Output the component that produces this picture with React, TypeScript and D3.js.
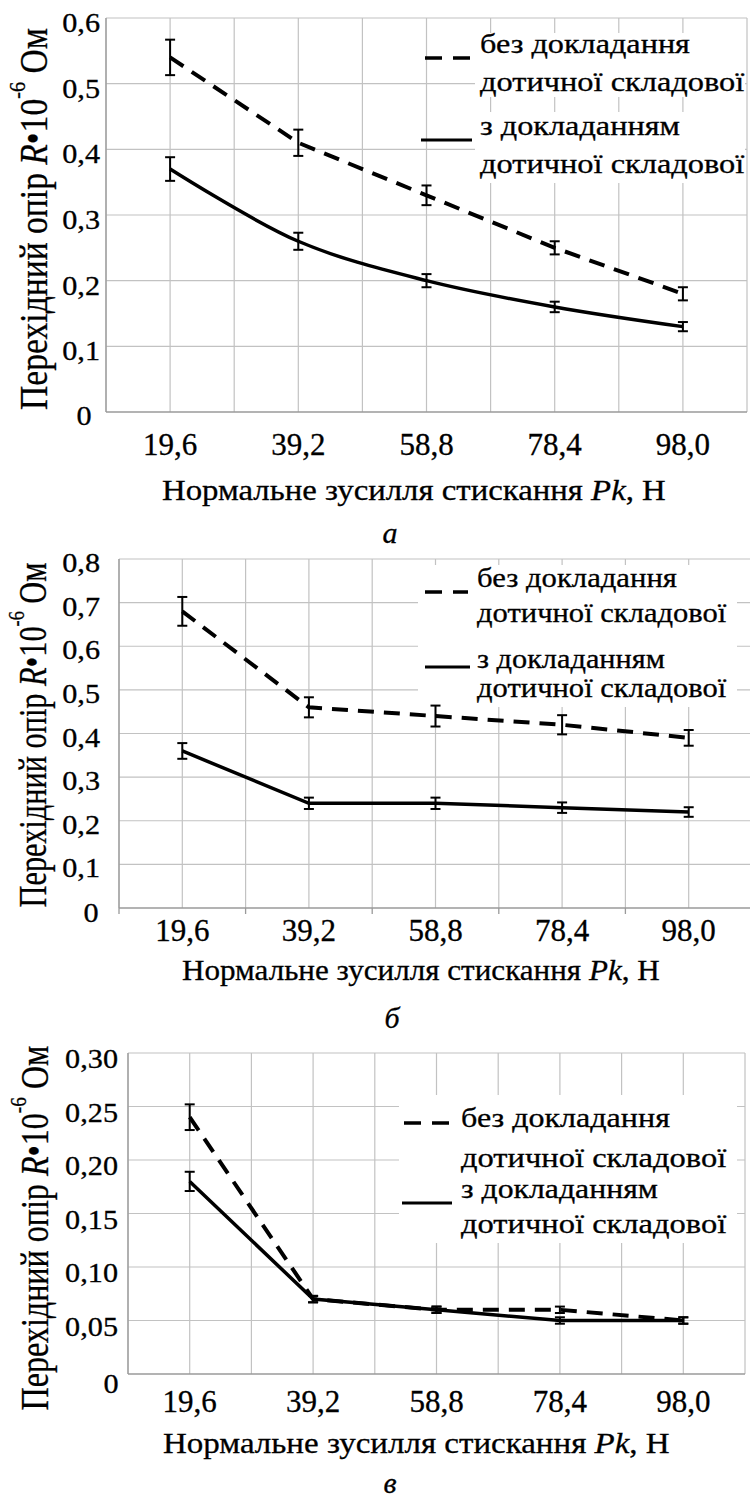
import React, { useLayoutEffect, useRef, useState } from "react";
import * as d3 from "d3";

const SERIF = "Liberation Serif";

// ---------- data ----------
const xValues = [19.6, 39.2, 58.8, 78.4, 98.0];
const xTickLabels = ["19,6", "39,2", "58,8", "78,4", "98,0"];
const xDomain: [number, number] = [9.8, 107.8];
const xGridStep = 9.8;

// panel а
const aWithout = [0.54, 0.41, 0.33, 0.25, 0.18];
const aWithoutErr = [0.027, 0.02, 0.015, 0.01, 0.01];
const aWith = [0.37, 0.26, 0.2, 0.16, 0.13];
const aWithErr = [0.018, 0.013, 0.01, 0.008, 0.007];
const aYTicks = [0, 0.1, 0.2, 0.3, 0.4, 0.5, 0.6];
const aYTickLabels = ["0", "0,1", "0,2", "0,3", "0,4", "0,5", "0,6"];

// panel б
const bWithout = [0.68, 0.46, 0.44, 0.42, 0.39];
const bWithoutErr = [0.033, 0.023, 0.024, 0.022, 0.018];
const bWith = [0.36, 0.24, 0.24, 0.23, 0.22];
const bWithErr = [0.018, 0.013, 0.013, 0.012, 0.011];
const bYTicks = [0, 0.1, 0.2, 0.3, 0.4, 0.5, 0.6, 0.7, 0.8];
const bYTickLabels = ["0", "0,1", "0,2", "0,3", "0,4", "0,5", "0,6", "0,7", "0,8"];

// panel в
const vWithout = [0.24, 0.07, 0.06, 0.06, 0.05];
const vWithoutErr = [0.012, 0.003, 0.003, 0.003, 0.003];
const vWith = [0.18, 0.07, 0.06, 0.05, 0.05];
const vWithErr = [0.009, 0.003, 0.003, 0.003, 0.003];
const vYTicks = [0, 0.05, 0.1, 0.15, 0.2, 0.25, 0.3];
const vYTickLabels = ["0", "0,05", "0,10", "0,15", "0,20", "0,25", "0,30"];

const legendLines = ["без докладання", "дотичної складової", "з докладанням", "дотичної складової"];
const xTitleMain = "Нормальне зусилля стискання ";
const xTitleVar = "Pk";
const xTitleUnit = ", Н";
const panelLetters = ["а", "б", "в"];

// ---------- layout ----------
const panels = [
  {
    letter: panelLetters[0],
    left: 106, right: 747, top: 18, bottom: 412,
    yTicks: aYTicks, yLabels: aYTickLabels,
    without: aWithout, withoutErr: aWithoutErr, withS: aWith, withErr: aWithErr,
    smooth: true, tickMarks: false,
    xTickBaseline: 455,
    xTitle: { x: 162, y: 500, w: 504 },
    letterPos: { x: 390, y: 543 },
    yTitle: { x: 47, cy: 219, len: 382 },
    yLabelRight: 100, yLabelDy: 14, zero: { x: 84, y: 425 },
    legend: {
      textX: 480, baselines: [53, 91, 135, 173], widths: [210, 265, 200, 265],
      dash: { x1: 425, x2: 470, y: 58 }, solid: { x1: 421, x2: 472, y: 140 },
      boxes: [[475, 33, 270, 64], [475, 112, 270, 71]],
    },
  },
  {
    letter: panelLetters[1],
    left: 119, right: 752, top: 559, bottom: 908,
    yTicks: bYTicks, yLabels: bYTickLabels,
    without: bWithout, withoutErr: bWithoutErr, withS: bWith, withErr: bWithErr,
    smooth: false, tickMarks: true,
    xTickBaseline: 941,
    xTitle: { x: 182, y: 980, w: 478 },
    letterPos: { x: 392, y: 1028 },
    yTitle: { x: 46, cy: 735, len: 345 },
    yLabelRight: 100, yLabelDy: 13, zero: { x: 91, y: 922 },
    legend: {
      textX: 477, baselines: [587, 622, 668, 697], widths: [200, 250, 188, 250],
      dash: { x1: 425, x2: 468, y: 592 }, solid: { x1: 425, x2: 470, y: 667 },
      boxes: [[418, 565, 319, 142]],
    },
  },
  {
    letter: panelLetters[2],
    left: 128, right: 745, top: 1053, bottom: 1374,
    yTicks: vYTicks, yLabels: vYTickLabels,
    without: vWithout, withoutErr: vWithoutErr, withS: vWith, withErr: vWithErr,
    smooth: false, tickMarks: false,
    xTickBaseline: 1412,
    xTitle: { x: 163, y: 1453, w: 507 },
    letterPos: { x: 390, y: 1493 },
    yTitle: { x: 48, cy: 1228, len: 365 },
    yLabelRight: 118, yLabelDy: 15, zero: { x: 111, y: 1393 },
    legend: {
      textX: 461, baselines: [1127, 1167, 1198, 1233], widths: [209, 266, 197, 266],
      dash: { x1: 404, x2: 452, y: 1123 }, solid: { x1: 402, x2: 452, y: 1203 },
      boxes: [[399, 1095, 338, 148]],
    },
  },
];

const GRID = "#c2c2c2";
const AXIS = "#9a9a9a";

function FitText(props: {
  x: number; y: number; width: number; anchor?: string; rotate?: number;
  fontSize: number; children: React.ReactNode;
}) {
  const { x, y, width, anchor = "start", rotate = 0, fontSize, children } = props;
  const ref = useRef<SVGTextElement>(null);
  const [s, setS] = useState(1);
  useLayoutEffect(() => {
    if (ref.current) {
      const w = ref.current.getBBox().width;
      if (w > 0) setS(width / w);
    }
  }, [width]);
  return (
    <g transform={`translate(${x},${y}) rotate(${rotate}) scale(${s},1)`}>
      <text ref={ref} x={0} y={0} textAnchor={anchor as any} fontSize={fontSize}
        fontFamily={SERIF} fill="#000" stroke="#000" strokeWidth={0.3}>
        {children}
      </text>
    </g>
  );
}

function Panel({ p }: { p: (typeof panels)[number] }) {
  const x = d3.scaleLinear().domain(xDomain).range([p.left, p.right]);
  const yMax = p.yTicks[p.yTicks.length - 1];
  const y = d3.scaleLinear().domain([0, yMax]).range([p.bottom, p.top]);
  const gridX = d3.range(xDomain[0], xDomain[1] + 1e-6, xGridStep);
  const tickMarkX = d3.range(xDomain[0], xDomain[1] + 1e-6, xGridStep * 2);

  const lineLin = d3.line<number>().x((_, i) => x(xValues[i])).y((d) => y(d));
  const lineSmooth = d3
    .line<number>()
    .x((_, i) => x(xValues[i]))
    .y((d) => y(d))
    .curve(d3.curveCatmullRom.alpha(0.5));

  const errBars = (vals: number[], errs: number[], key: string) =>
    vals.map((v, i) => {
      const cx = x(xValues[i]);
      const y1 = y(v - errs[i]);
      const y2 = y(v + errs[i]);
      return (
        <g key={key + i} stroke="#000" strokeWidth={2}>
          <line x1={cx} x2={cx} y1={y1} y2={y2} />
          <line x1={cx - 5} x2={cx + 5} y1={y1} y2={y1} />
          <line x1={cx - 5} x2={cx + 5} y1={y2} y2={y2} />
        </g>
      );
    });

  const L = p.legend;
  return (
    <g>
      {p.yTicks.slice(1).map((t) => (
        <line key={"gy" + t} x1={p.left} x2={p.right} y1={y(t)} y2={y(t)} stroke={GRID} strokeWidth={1.2} />
      ))}
      {gridX.map((g) => (
        <line key={"gx" + g} x1={x(g)} x2={x(g)} y1={p.top} y2={p.bottom} stroke={GRID} strokeWidth={1.2} />
      ))}
      <line x1={p.left} x2={p.left} y1={p.top} y2={p.bottom} stroke={AXIS} strokeWidth={1.3} />
      <line x1={p.left} x2={p.right} y1={p.bottom} y2={p.bottom} stroke={AXIS} strokeWidth={1.3} />
      {p.tickMarks &&
        tickMarkX.map((g) => (
          <line key={"tm" + g} x1={x(g)} x2={x(g)} y1={p.bottom} y2={p.bottom + 6} stroke={AXIS} strokeWidth={1.3} />
        ))}

      {p.yTicks.map((t, i) =>
        i === 0 ? (
          <g key={"yl" + i} transform={`translate(${p.zero.x},${p.zero.y}) scale(1.12,1)`}>
            <text textAnchor="middle" fontSize={27} fontFamily={SERIF} stroke="#000" strokeWidth={0.3}>{p.yLabels[i]}</text>
          </g>
        ) : (
          <g key={"yl" + i} transform={`translate(${p.yLabelRight},${y(t) + p.yLabelDy}) scale(1.12,1)`}>
            <text textAnchor="end" fontSize={27} fontFamily={SERIF} stroke="#000" strokeWidth={0.3}>{p.yLabels[i]}</text>
          </g>
        )
      )}
      {xValues.map((v, i) => (
        <text key={"xl" + i} x={x(v)} y={p.xTickBaseline} textAnchor="middle" fontSize={31}
          fontFamily={SERIF} stroke="#000" strokeWidth={0.3}>
          {xTickLabels[i]}
        </text>
      ))}

      {L.boxes.map((b, i) => (
        <rect key={"bx" + i} x={b[0]} y={b[1]} width={b[2]} height={b[3]} fill="#fff" />
      ))}
      <line x1={L.dash.x1} x2={L.dash.x2} y1={L.dash.y} y2={L.dash.y} stroke="#000" strokeWidth={3.5} strokeDasharray="17 11" />
      <line x1={L.solid.x1} x2={L.solid.x2} y1={L.solid.y} y2={L.solid.y} stroke="#000" strokeWidth={3} />
      {legendLines.map((t, i) => (
        <FitText key={"lg" + i} x={L.textX} y={L.baselines[i]} width={L.widths[i]} fontSize={27}>
          {t}
        </FitText>
      ))}

      <path d={lineLin(p.without) || ""} fill="none" stroke="#000" strokeWidth={4} strokeDasharray="16 10" />
      <path d={(p.smooth ? lineSmooth : lineLin)(p.withS) || ""} fill="none" stroke="#000" strokeWidth={3.5} />
      {errBars(p.without, p.withoutErr, "ew")}
      {errBars(p.withS, p.withErr, "es")}

      <FitText x={p.yTitle.x} y={p.yTitle.cy} width={p.yTitle.len} anchor="middle" rotate={-90} fontSize={40}>
        <tspan>Перехідний опір </tspan>
        <tspan fontStyle="italic">R</tspan>
        <tspan>•10</tspan>
        <tspan fontSize={24} dy={-22}>-6</tspan>
        <tspan dy={22}> Ом</tspan>
      </FitText>

      <FitText x={p.xTitle.x} y={p.xTitle.y} width={p.xTitle.w} fontSize={30}>
        <tspan>{xTitleMain}</tspan>
        <tspan fontStyle="italic">{xTitleVar}</tspan>
        <tspan>{xTitleUnit}</tspan>
      </FitText>

      <text x={p.letterPos.x} y={p.letterPos.y} textAnchor="middle" fontSize={30} fontStyle="italic"
        fontFamily={SERIF} stroke="#000" strokeWidth={0.3}>
        {p.letter}
      </text>
    </g>
  );
}

export default function App() {
  return (
    <svg
      width={750}
      height={1502}
      viewBox="0 0 750 1502"
      style={{ position: "absolute", left: 0, top: 0, background: "#fff" }}
    >
      <rect x={0} y={0} width={750} height={1502} fill="#fff" />
      {panels.map((p, i) => (
        <Panel key={i} p={p} />
      ))}
    </svg>
  );
}
